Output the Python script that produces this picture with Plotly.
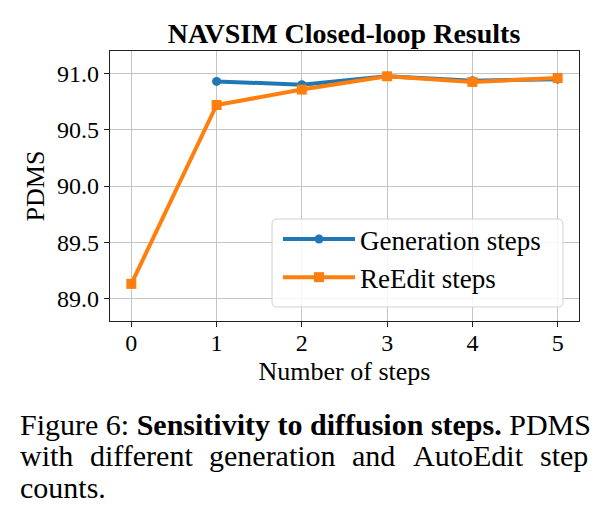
import plotly.graph_objects as go

# ---- data ----
gen_steps = [1, 2, 3, 4, 5]
gen_pdms = [90.93, 90.90, 90.975, 90.935, 90.95]
reedit_steps = [0, 1, 2, 3, 4, 5]
reedit_pdms = [89.13, 90.72, 90.857, 90.975, 90.925, 90.96]
x_ticks = [0, 1, 2, 3, 4, 5]
y_ticks = [89.0, 89.5, 90.0, 90.5, 91.0]
y_tick_labels = ["89.0", "89.5", "90.0", "90.5", "91.0"]
series_names = ["Generation steps", "ReEdit steps"]

# ---- layout geometry ----
FIG_W, FIG_H = 603, 525
L, R, T, B = 110, 24, 51, 204
W = FIG_W - L - R
H = FIG_H - T - B

def px2x(px):
    return (px - L) / W

def px2y(py):
    return 1 - (py - T) / H

SERIF = "Liberation Serif, Times New Roman, serif"
BLUE = "#1f77b4"
ORANGE = "#ff7f0e"

fig = go.Figure()
fig.add_trace(go.Scatter(
    x=gen_steps, y=gen_pdms, name=series_names[0], mode="lines+markers",
    line=dict(color=BLUE, width=4), marker=dict(symbol="circle", size=9, color=BLUE),
))
fig.add_trace(go.Scatter(
    x=reedit_steps, y=reedit_pdms, name=series_names[1], mode="lines+markers",
    line=dict(color=ORANGE, width=4), marker=dict(symbol="square", size=10, color=ORANGE),
))

axis_common = dict(
    showline=True, linecolor="#222", linewidth=1.2, mirror=True,
    showgrid=True, gridcolor="#c4c4c4", gridwidth=1,
    ticks="outside", ticklen=5, tickwidth=1.2, tickcolor="#222",
    tickfont=dict(family=SERIF, size=24, color="black"),
    zeroline=False,
)

fig.update_xaxes(
    range=[-0.25, 5.25], tickvals=x_ticks, ticklabelstandoff=-5,
    title=dict(text="Number of steps", font=dict(family=SERIF, size=26, color="black"), standoff=6),
    **axis_common,
)
fig.update_yaxes(
    range=[88.8, 91.2], tickvals=y_ticks, ticktext=y_tick_labels,
    title=dict(text="PDMS", font=dict(family=SERIF, size=26, color="black"), standoff=4),
    **axis_common,
)

# rounded legend frame
x0, x1 = px2x(272), px2x(563)
y0, y1 = px2y(307), px2y(219)
rx, ry = 5 / W, 5 / H
path = (
    f"M {x0+rx},{y1} L {x1-rx},{y1} Q {x1},{y1} {x1},{y1-ry} "
    f"L {x1},{y0+ry} Q {x1},{y0} {x1-rx},{y0} L {x0+rx},{y0} "
    f"Q {x0},{y0} {x0},{y0+ry} L {x0},{y1-ry} Q {x0},{y1} {x0+rx},{y1} Z"
)
fig.add_shape(type="path", path=path, xref="paper", yref="paper",
              fillcolor="rgba(255,255,255,0.85)", line=dict(color="#d0d0d0", width=1),
              layer="above")

fig.update_layout(
    width=FIG_W, height=FIG_H,
    margin=dict(l=L, r=R, t=T, b=B),
    paper_bgcolor="white", plot_bgcolor="white",
    title=dict(text="<b>NAVSIM Closed-loop Results</b>", x=px2x(344), xref="paper",
               y=1 - 33 / FIG_H, yref="container", xanchor="center", yanchor="middle",
               font=dict(family=SERIF, size=28, color="black")),
    legend=dict(x=px2x(278), y=px2y(215), xanchor="left", yanchor="top",
                bgcolor="rgba(0,0,0,0)", borderwidth=0,
                font=dict(family=SERIF, size=27, color="black"),
                itemwidth=72, tracegroupgap=6),
    showlegend=True,
)

# caption
cap_font = dict(family=SERIF, size=30, color="black")
fig.add_annotation(
    text="Figure 6: <b>Sensitivity to diffusion steps.</b> PDMS",
    xref="paper", yref="paper", x=px2x(18), y=px2y(424),
    xanchor="left", yanchor="middle", showarrow=False, font=cap_font,
)
line2_words = ["with", "different", "generation", "and", "AutoEdit", "step"]
line2_px = [18, 88, 207, 350, 411, 538]
for word, px in zip(line2_words, line2_px):
    fig.add_annotation(text=word, xref="paper", yref="paper", x=px2x(px), y=px2y(455),
                       xanchor="left", yanchor="middle", showarrow=False, font=cap_font)
fig.add_annotation(text="counts.", xref="paper", yref="paper", x=px2x(18), y=px2y(487),
                   xanchor="left", yanchor="middle", showarrow=False, font=cap_font)

fig.write_html("out.html")
